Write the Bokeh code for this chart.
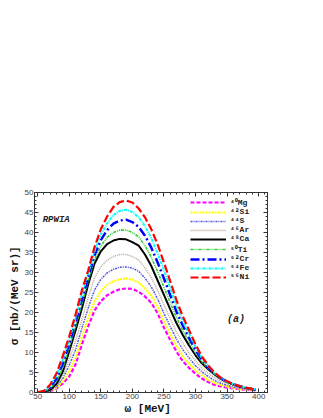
from bokeh.plotting import figure
from bokeh.models import (Legend, LegendItem, LinearAxis, Label, Range1d,
                          FixedTicker, ColumnDataSource)
from bokeh.embed import file_html
from bokeh.resources import INLINE

omega = [50, 55, 60, 70, 80, 90, 100, 110, 120, 130, 140, 150, 160, 170, 180, 190,
         200, 210, 220, 230, 240, 250, 260, 270, 280, 290, 300, 310, 320, 330,
         340, 350, 360, 370, 380, 390, 395]

mg = [0.0, 0.0, 0.05, 0.3, 1.0, 2.3, 4.0, 7.0, 12.0, 16.5, 20.5, 22.8, 24.3, 25.2, 25.8, 26.0,
      25.9, 25.2, 24.0, 22.4, 19.8, 16.2, 13.1, 10.2, 7.8, 6.1, 4.7, 3.5, 2.6, 1.9,
      1.5, 1.2, 1.0, 0.8, 0.7, 0.6, 0.5]
si = [0.0, 0.01, 0.08, 0.38, 1.24, 2.9, 5.3, 8.7, 13.8, 18.6, 22.8, 25.3, 26.9, 27.8, 28.3, 28.5,
      28.2, 27.5, 26.1, 24.2, 21.4, 17.8, 14.6, 11.6, 9.1, 7.2, 5.6, 4.3, 3.2, 2.4,
      1.9, 1.5, 1.2, 0.9, 0.8, 0.6, 0.5]
s = [0.0, 0.02, 0.12, 0.48, 1.5, 3.6, 6.8, 10.7, 16.0, 21.1, 25.6, 28.3, 29.9, 30.8, 31.3, 31.4,
     31.1, 30.3, 28.6, 26.4, 23.4, 19.8, 16.5, 13.3, 10.7, 8.6, 6.7, 5.2, 4.0, 3.0,
     2.3, 1.8, 1.4, 1.1, 0.9, 0.7, 0.6]
ar = [0.0, 0.03, 0.15, 0.58, 1.8, 4.4, 8.3, 12.9, 18.2, 23.7, 28.6, 31.4, 33.1, 34.0, 34.5, 34.5,
      34.0, 33.1, 31.2, 28.7, 25.5, 21.9, 18.4, 15.1, 12.3, 9.9, 7.9, 6.1, 4.8, 3.7,
      2.8, 2.2, 1.7, 1.3, 1.0, 0.7, 0.65]
ca = [0.0, 0.05, 0.2, 0.7, 2.2, 5.3, 10.3, 15.5, 21.0, 27.0, 32.2, 35.3, 37.1, 38.0, 38.4, 38.3,
      37.6, 36.7, 34.5, 31.6, 28.0, 24.4, 20.8, 17.3, 14.3, 11.7, 9.3, 7.3, 5.8, 4.5,
      3.4, 2.6, 2.0, 1.5, 1.1, 0.8, 0.7]
ti = [0.02, 0.09, 0.25, 1.0, 2.8, 6.2, 11.2, 16.5, 22.1, 27.8, 33.2, 36.6, 38.8, 40.0, 40.6, 40.6,
      40.0, 38.9, 36.7, 33.8, 30.2, 26.3, 22.5, 18.7, 15.4, 12.6, 9.9, 7.7, 6.0, 4.6,
      3.5, 2.6, 2.0, 1.5, 1.1, 0.8, 0.7]
cr = [0.05, 0.13, 0.3, 1.35, 3.5, 7.3, 12.2, 17.5, 23.3, 28.8, 34.3, 38.1, 40.6, 42.2, 43.0, 43.2,
      42.6, 41.4, 39.2, 36.2, 32.5, 28.5, 24.3, 20.2, 16.7, 13.6, 10.7, 8.2, 6.3, 4.8,
      3.6, 2.7, 2.1, 1.55, 1.15, 0.85, 0.75]
fe = [0.08, 0.16, 0.35, 1.7, 4.2, 8.3, 13.1, 18.5, 24.4, 29.7, 35.3, 39.5, 42.3, 44.4, 45.4, 45.7,
      45.1, 43.8, 41.6, 38.6, 34.8, 30.6, 26.1, 21.6, 17.9, 14.6, 11.4, 8.6, 6.6, 4.9,
      3.6, 2.7, 2.1, 1.6, 1.2, 0.9, 0.8]
ni = [0.1, 0.2, 0.4, 2.0, 4.8, 9.2, 14.0, 19.5, 25.5, 30.5, 36.3, 40.8, 44.0, 46.4, 47.6, 48.0,
      47.5, 46.0, 43.8, 40.8, 37.0, 32.5, 27.8, 23.0, 19.0, 15.5, 12.0, 9.0, 6.8, 5.0,
      3.7, 2.8, 2.1, 1.6, 1.2, 0.9, 0.8]

labels = ["\u2074\u2070Mg", "\u2074\u00b2Si", "\u2074\u2074S", "\u2074\u2076Ar", "\u2074\u2078Ca",
          "\u2075\u2070Ti", "\u2075\u00b2Cr", "\u2075\u2074Fe", "\u2075\u2076Ni"]
series = [mg, si, s, ar, ca, ti, cr, fe, ni]
colors = ["#ff00ff", "#ffff00", "#5555dd", "#b5a898", "#000000",
          "#33cc33", "#0000ff", "#00ffff", "#ff0000"]
dashes = ["4 2", "2 1", "2 1 1 1", "1 1", "solid", "3 1 1 1 1 1", "9 3 2 3", "3 1 1 1", "8 3"]
widths = [2.2, 2.2, 1.5, 1.5, 2.0, 1.6, 2.5, 2.0, 2.2]

x_ticks = [50, 100, 150, 200, 250, 300, 350, 400]
y_ticks = [0, 5, 10, 15, 20, 25, 30, 35, 40, 45, 50]

MONO = "Liberation Mono"
SANS = "Liberation Sans"

p = figure(frame_width=233, frame_height=200, output_backend="svg", toolbar_location=None,
           x_range=Range1d(45, 414), y_range=Range1d(0, 50),
           min_border_left=34, min_border_right=40, min_border_top=192,
           min_border_bottom=22)
p.background_fill_color = None
p.border_fill_color = "white"
p.outline_line_color = "#333333"
p.grid.visible = False

items = []
for lab, ys, c, d, w in zip(labels, series, colors, dashes, widths):
    src = ColumnDataSource(dict(x=omega, y=ys))
    r = p.line("x", "y", source=src, line_color=c, line_width=w, line_dash=d)
    items.append(LegendItem(label=lab, renderers=[r]))

def style_axis(ax, ticks, show_labels, minor):
    ax.ticker = FixedTicker(ticks=ticks, minor_ticks=minor)
    ax.axis_line_color = "#333333"
    ax.major_tick_line_color = "#333333"
    ax.minor_tick_line_color = "#333333"
    ax.major_tick_in = 4
    ax.major_tick_out = 0
    ax.minor_tick_in = 2
    ax.minor_tick_out = 0
    ax.major_label_text_font = SANS
    ax.major_label_text_font_size = "8px"
    ax.major_label_text_color = "#444444"
    ax.major_label_standoff = 1
    if not show_labels:
        ax.major_label_text_alpha = 0
        ax.major_label_text_font_size = "0px"
        ax.major_label_standoff = 0

x_minor = list(range(50, 411, 10))
y_minor = list(range(0, 51, 1))

style_axis(p.xaxis[0], x_ticks, True, x_minor)
style_axis(p.yaxis[0], y_ticks, True, y_minor)
p.xaxis[0].axis_label = "\u03c9  [MeV]"
p.yaxis[0].axis_label = "\u03c3  [nb/(MeV sr)]"
for ax in (p.xaxis[0], p.yaxis[0]):
    ax.axis_label_text_font = MONO
    ax.axis_label_text_font_style = "bold"
    ax.axis_label_text_font_size = "11px"
    ax.axis_label_text_color = "#111111"
    ax.axis_label_standoff = 1

top = LinearAxis()
style_axis(top, x_ticks, False, x_minor)
p.add_layout(top, "above")
right = LinearAxis()
style_axis(right, y_ticks, False, y_minor)
p.add_layout(right, "right")

legend = Legend(items=items, location=(156, 111), glyph_width=36, glyph_height=8,
                label_height=8, spacing=0, padding=0, margin=0, label_standoff=4,
                label_text_font=MONO, label_text_font_style="bold",
                label_text_font_size="8px", label_text_color="#222222",
                border_line_color=None, background_fill_alpha=0)
p.add_layout(legend, "center")

p.add_layout(Label(x=58, y=42, text="RPWIA", text_font=MONO, text_font_style="bold italic",
                   text_font_size="9px", text_color="#222222"))
p.add_layout(Label(x=350, y=17, text="(a)", text_font=MONO, text_font_style="bold italic",
                   text_font_size="10px", text_color="#222222"))

open("out.html", "w").write(file_html(p, INLINE))
